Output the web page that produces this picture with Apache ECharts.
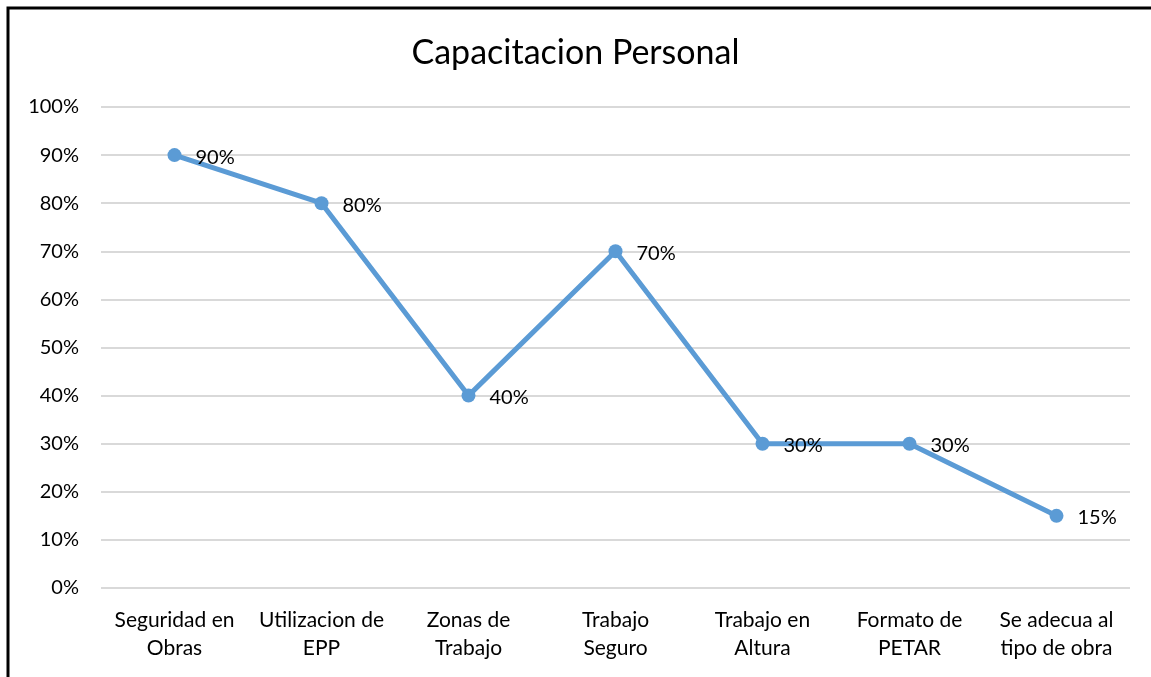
<!DOCTYPE html>
<html>
<head>
<meta charset="utf-8">
<script src="https://cdn.jsdelivr.net/npm/echarts@6/dist/echarts.min.js"></script>
<style>
  html, body { margin: 0; padding: 0; background: #fff; }
  #chart { width: 1151px; height: 677px; }
</style>
</head>
<body>
<div id="chart"></div>
<script>
const categories = [
  "Seguridad en\nObras",
  "Utilizacion de\nEPP",
  "Zonas de\nTrabajo",
  "Trabajo\nSeguro",
  "Trabajo en\nAltura",
  "Formato de\nPETAR",
  "Se adecua al\ntipo de obra"
];
const values = [90, 80, 40, 70, 30, 30, 15];

const font = "Lato, 'Open Sans', sans-serif";

const chart = echarts.init(document.getElementById("chart"), null, { renderer: "canvas" });

chart.setOption({
  animation: false,
  backgroundColor: "#fff",
  textStyle: { fontFamily: font },
  title: {
    text: "Capacitacion Personal",
    left: "center",
    top: 31,
    textStyle: { fontFamily: font, fontSize: 34, fontWeight: "normal", color: "#000" }
  },
  graphic: [{
    type: "rect",
    shape: { x: 8, y: 8, width: 1300, height: 800 },
    style: { fill: "none", stroke: "#000", lineWidth: 3 },
    silent: true
  }],
  grid: { left: 101, right: 21, top: 107, bottom: 89 },
  xAxis: {
    type: "category",
    data: categories,
    boundaryGap: true,
    axisLine: { show: false },
    axisTick: { show: false },
    axisLabel: {
      color: "#000",
      fontSize: 21,
      fontFamily: font,
      lineHeight: 28,
      margin: 18,
      interval: 0
    }
  },
  yAxis: {
    type: "value",
    min: 0,
    max: 100,
    interval: 10,
    axisLine: { show: false },
    axisTick: { show: false },
    axisLabel: {
      color: "#000",
      fontSize: 20,
      fontFamily: font,
      margin: 22,
      formatter: v => v + "%"
    },
    splitLine: { lineStyle: { color: "#d9d9d9", width: 2 } }
  },
  series: [{
    type: "line",
    data: values,
    symbol: "circle",
    symbolSize: 14,
    lineStyle: { color: "#5b9bd5", width: 5 },
    itemStyle: { color: "#5b9bd5" },
    label: {
      show: true,
      position: "right",
      distance: 14,
      color: "#000",
      fontSize: 20,
      fontFamily: font,
      offset: [0, 2],
      formatter: p => p.value + "%"
    }
  }]
});
</script>
</body>
</html>
